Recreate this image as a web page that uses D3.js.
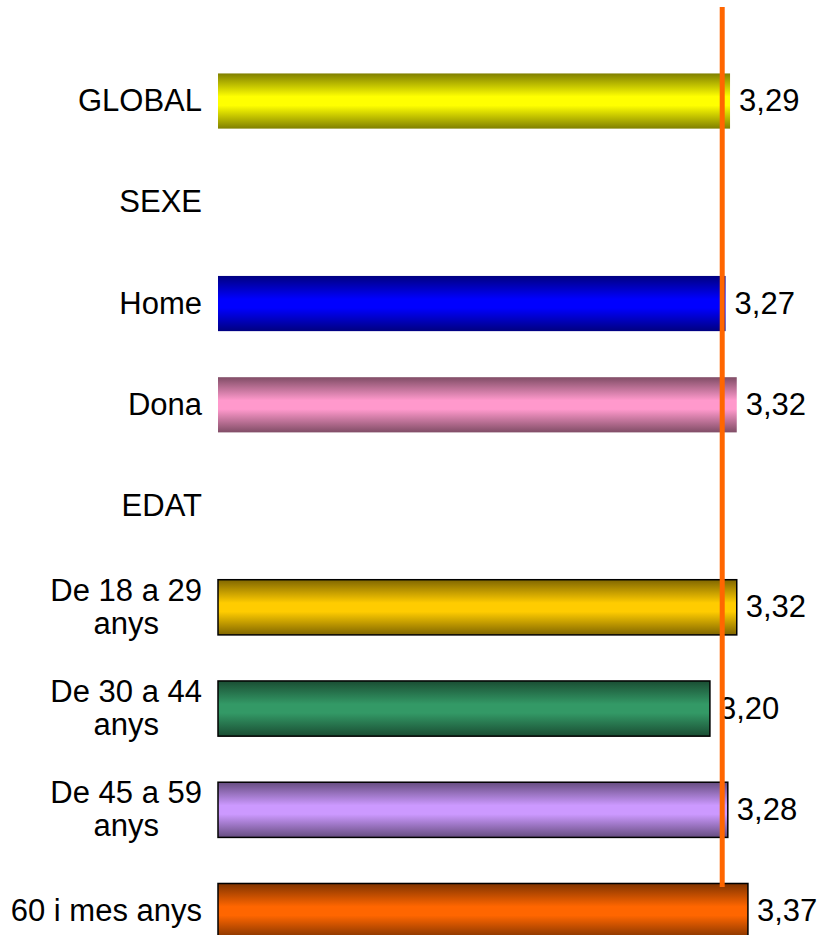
<!DOCTYPE html>
<html>
<head>
<meta charset="utf-8">
<script src="https://cdn.jsdelivr.net/npm/d3@7"></script>
<style>
html,body{margin:0;padding:0;background:#fff;}
svg{display:block;}
text{font-family:"Liberation Sans",Arial,sans-serif;fill:#000;}
</style>
</head>
<body>
<svg id="chart" width="820" height="935"></svg>
<script>
// Data
const categories = ["GLOBAL","SEXE","Home","Dona","EDAT","De 18 a 29 anys","De 30 a 44 anys","De 45 a 59 anys","60 i mes anys"];
const labelLines = [["GLOBAL"],["SEXE"],["Home"],["Dona"],["EDAT"],["De 18 a 29","anys"],["De 30 a 44","anys"],["De 45 a 59","anys"],["60 i mes anys"]];
const values = [3.29, null, 3.27, 3.32, null, 3.32, 3.20, 3.28, 3.37];
const valueLabels = ["3,29", "", "3,27", "3,32", "", "3,32", "3,20", "3,28", "3,37"];
const referenceValue = 3.255;
const barColors = ["#FFFF00", null, "#0000FF", "#FF99CC", null, "#FFCC00", "#339966", "#CC99FF", "#FF6600"];
const bordered = [false, false, false, false, false, true, true, true, true];

const svg = d3.select("#chart");
const x = d3.scaleLinear().domain([1, 4]).range([218, 218 + 3 * 223.6]);
const y = d3.scaleBand().domain(categories).range([50.4, 961.7]).paddingInner(0.455).paddingOuter(0.2275);

const defs = svg.append("defs");
barColors.forEach((c, i) => {
  if (!c) return;
  const dark = d3.interpolateRgb(c, "#000")(0.5);
  const g = defs.append("linearGradient").attr("id", "grad" + i)
    .attr("x1", 0).attr("y1", 0).attr("x2", 0).attr("y2", 1);
  g.append("stop").attr("offset", "0%").attr("stop-color", dark);
  g.append("stop").attr("offset", "42%").attr("stop-color", c);
  g.append("stop").attr("offset", "58%").attr("stop-color", c);
  g.append("stop").attr("offset", "100%").attr("stop-color", dark);
});

const rows = categories.map((c, i) => ({c, i, v: values[i]}));

// bars
svg.append("g").selectAll("rect")
  .data(rows.filter(d => d.v != null))
  .join("rect")
  .attr("x", x(1))
  .attr("y", d => y(d.c))
  .attr("width", d => x(d.v) - x(1))
  .attr("height", y.bandwidth())
  .attr("fill", d => `url(#grad${d.i})`)
  .attr("stroke", d => bordered[d.i] ? "#000" : "none")
  .attr("stroke-width", 1.5);

// value labels
svg.append("g").selectAll("text")
  .data(rows.filter(d => d.v != null))
  .join("text")
  .attr("x", d => x(d.v) + 9)
  .attr("y", d => y(d.c) + y.bandwidth() / 2 + 10)
  .attr("font-size", 31)
  .text(d => valueLabels[d.i]);

// category labels: block right-aligned, lines centred within block
const lab = svg.append("g").selectAll("text")
  .data(rows)
  .join("text")
  .attr("text-anchor", "middle")
  .attr("font-size", 31)
  .attr("transform", d => `translate(202,${y(d.c) + y.bandwidth() / 2})`);
lab.each(function(d) {
  const lines = labelLines[d.i];
  const t = d3.select(this);
  const lh = 33;
  const y0 = 10 - (lines.length - 1) * lh / 2;
  const spans = lines.map((l, k) => t.append("tspan").attr("y", y0 + k * lh).text(l));
  const maxW = d3.max(spans, s => s.node().getComputedTextLength());
  spans.forEach(s => s.attr("x", -maxW / 2));
});

// reference line
svg.append("line")
  .attr("x1", x(referenceValue)).attr("x2", x(referenceValue))
  .attr("y1", 7).attr("y2", 887)
  .attr("stroke", "#FF6600").attr("stroke-width", 5);
</script>
</body>
</html>
